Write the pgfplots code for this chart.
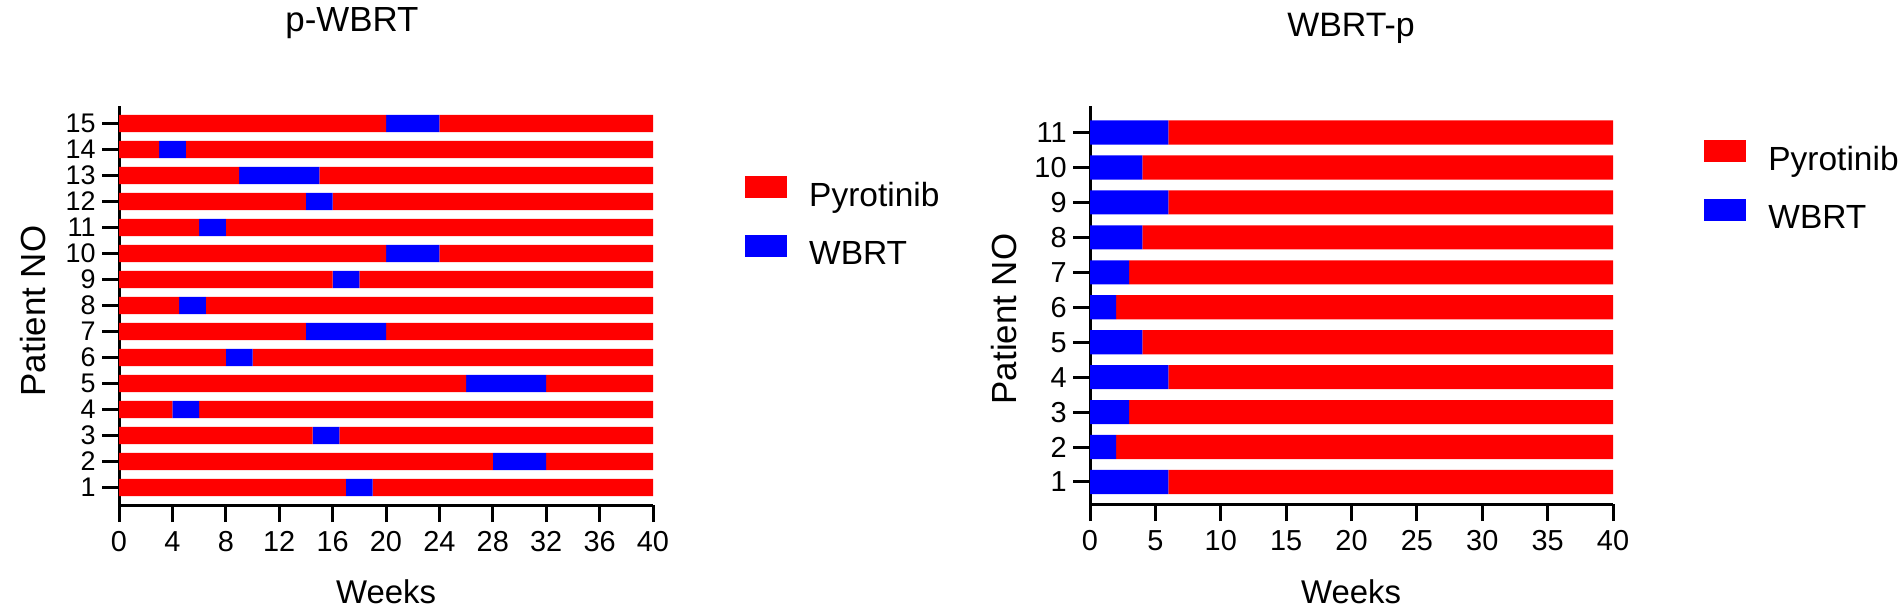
\documentclass[border=0pt]{standalone}
\usepackage{fontspec}
\setmainfont{Liberation Sans}
\usepackage{pgfplots}
\usepackage{pgfplotstable}
\pgfplotsset{compat=1.18}

\definecolor{pyro}{RGB}{255,0,0}
\definecolor{wbrt}{RGB}{0,0,255}

% p-WBRT: Pyrotinib before WBRT, WBRT block, Pyrotinib after (weeks)
\pgfplotstableread{
y pre wbrt post
1 17 2 21
2 28 4 8
3 14.5 2 23.5
4 4 2 34
5 26 6 8
6 8 2 30
7 14 6 20
8 4.5 2 33.5
9 16 2 22
10 20 4 16
11 6 2 32
12 14 2 24
13 9 6 25
14 3 2 35
15 20 4 16
}\leftdata

% WBRT-p: WBRT first, then Pyrotinib
\pgfplotstableread{
y wbrt post
1 6 34
2 2 38
3 3 37
4 6 34
5 4 36
6 2 38
7 3 37
8 4 36
9 6 34
10 4 36
11 6 34
}\rightdata

\pgfplotsset{
  gantt/.style={
    xbar stacked, scale only axis,
    axis x line*=bottom, axis y line*=left,
    axis line style={line width=1.5bp, -},
    every tick/.style={line width=1.5bp, black},
    major tick length=8.5bp, tick align=outside,
    xmin=0, xmax=40,
    xticklabel style={inner sep=4.5bp, font=\fontsize{14.5}{15}\selectfont},
    yticklabel style={inner xsep=3bp, inner ysep=0pt, font=\fontsize{14.5}{15}\selectfont},
    /pgf/number format/assume math mode=true,
    legend style={draw=none, fill=none, inner sep=0pt,
      font=\fontsize{16.8}{18}\selectfont, anchor=north west,
      row sep=12.5bp, /tikz/column sep=11bp,
      nodes={inner sep=0pt}},
    legend cell align=left,
    legend image code/.code={\fill[##1] (0bp,-1bp) rectangle (21bp,10bp);},
  }
}

\begin{document}
\begin{tikzpicture}
\useasboundingbox (0,0) rectangle (951bp,305.5bp);

\begin{axis}[gantt,
  at={(59.5bp,53bp)}, anchor=south west,
  width=267bp, height=199.5bp,
  ymin=0.33, ymax=15.67, bar width=0.66,
  xtick={0,4,...,40}, ytick={1,...,15},
  yticklabel style={font=\fontsize{13.5}{14}\selectfont},
  legend style={at={(1.172,0.825)}},
]
\addplot[fill=pyro, draw=none] table[x=pre, y=y] {\leftdata};
\addlegendentry{Pyrotinib}
\addplot[fill=wbrt, draw=none] table[x=wbrt, y=y] {\leftdata};
\addlegendentry{WBRT}
\addplot[fill=pyro, draw=none, forget plot] table[x=post, y=y] {\leftdata};
\end{axis}

\begin{axis}[gantt,
  at={(545bp,53.5bp)}, anchor=south west,
  width=261.5bp, height=199bp,
  ymin=0.37, ymax=11.76, bar width=0.69,
  xtick={0,5,...,40}, ytick={1,...,11},
  reverse legend,
  legend style={at={(1.174,0.915)}},
]
\addplot[fill=wbrt, draw=none] table[x=wbrt, y=y] {\rightdata};
\addlegendentry{WBRT}
\addplot[fill=pyro, draw=none] table[x=post, y=y] {\rightdata};
\addlegendentry{Pyrotinib}
\end{axis}

\node[anchor=base, font=\fontsize{17.5}{19}\selectfont] at (176bp,289.5bp) {p-WBRT};
\node[anchor=base, font=\fontsize{17}{19}\selectfont] at (675.5bp,287bp) {WBRT-p};
\node[rotate=90, font=\fontsize{17.5}{19}\selectfont] at (16.5bp,150bp) {Patient NO};
\node[rotate=90, font=\fontsize{17.5}{19}\selectfont] at (502bp,146bp) {Patient NO};
\node[anchor=base, font=\fontsize{16.5}{18}\selectfont] at (193bp,4bp) {Weeks};
\node[anchor=base, font=\fontsize{16.5}{18}\selectfont] at (675.5bp,4bp) {Weeks};
\end{tikzpicture}
\end{document}
